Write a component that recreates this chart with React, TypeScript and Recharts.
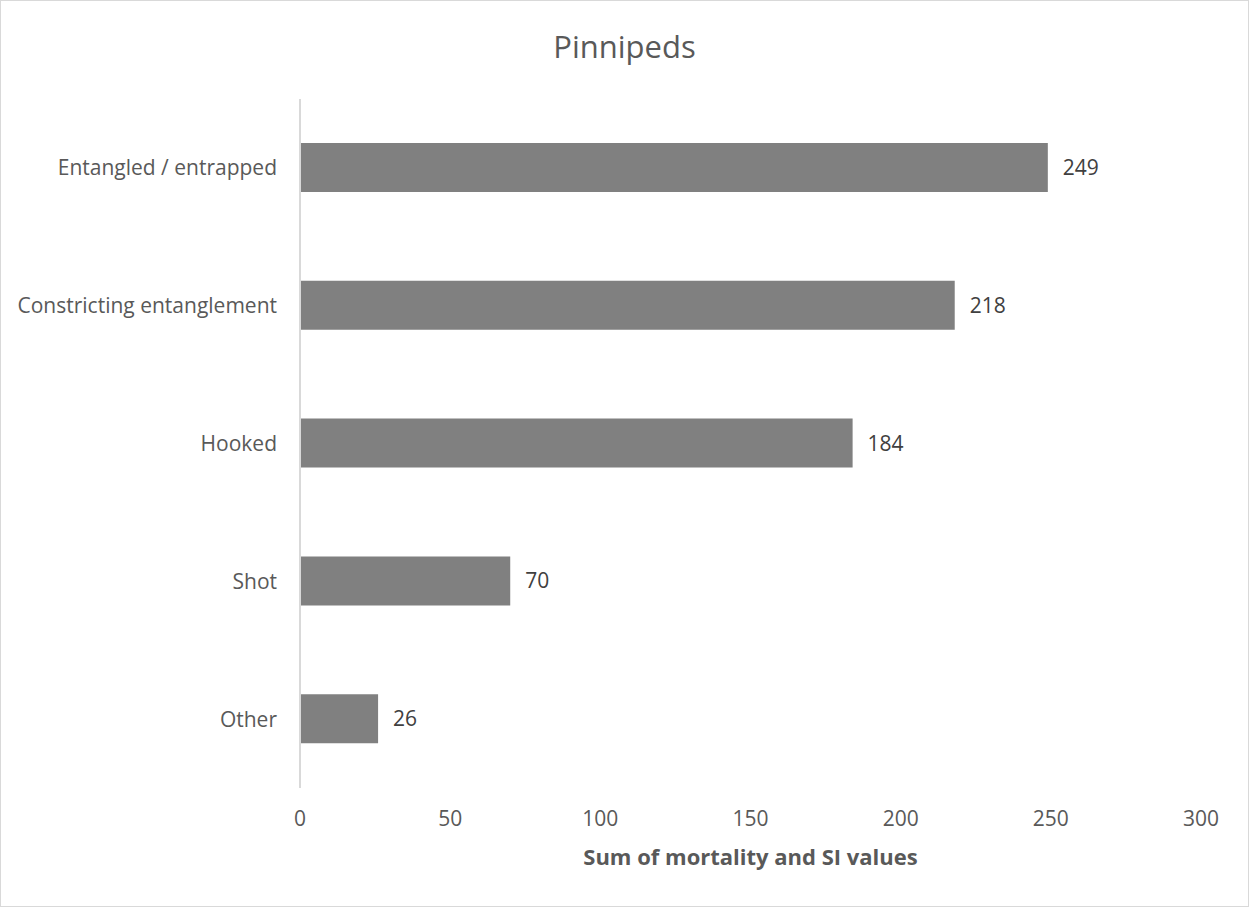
import React from 'react';
import { BarChart, Bar, XAxis, YAxis, LabelList } from 'recharts';

const categories = ['Entangled / entrapped', 'Constricting entanglement', 'Hooked', 'Shot', 'Other'];
const values = [249, 218, 184, 70, 26];
const xTicks = [0, 50, 100, 150, 200, 250, 300];

const data = categories.map((name, i) => ({ name, value: values[i] }));

const FONT = '"Open Sans", "Noto Sans", sans-serif';

export default function App() {
  return (
    <div style={{ position: 'absolute', left: 0, top: 0, width: 1249, height: 907, background: '#fff', fontFamily: FONT }}>
      <div style={{ position: 'absolute', left: 0, top: 0, width: 1247, height: 905, border: '1px solid #d9d9d9' }} />
      <div style={{ position: 'absolute', left: 0, top: 24, width: 1249, textAlign: 'center', fontSize: 31, lineHeight: '44px', color: '#595959' }}>Pinnipeds</div>
      <BarChart
        width={1249}
        height={907}
        data={data}
        layout="vertical"
        margin={{ top: 99, right: 48, bottom: 0, left: 0 }}
      >
        <XAxis
          type="number"
          domain={[0, 300]}
          ticks={xTicks}
          axisLine={false}
          tickLine={false}
          tickMargin={17}
          height={119}
          tick={{ fill: '#595959', fontSize: 21, fontFamily: FONT }}
          label={{ value: 'Sum of mortality and SI values', position: 'insideBottom', offset: 42, fill: '#595959', fontSize: 22, fontWeight: 'bold', fontFamily: FONT }}
        />
        <YAxis
          type="category"
          dataKey="name"
          width={300}
          axisLine={{ stroke: '#d9d9d9', strokeWidth: 2 }}
          tickLine={false}
          tickMargin={17}
          tick={{ fill: '#595959', fontSize: 21, fontFamily: FONT }}
        />
        <Bar dataKey="value" fill="#808080" barSize={49} isAnimationActive={false}>
          <LabelList dataKey="value" position="right" offset={15} fill="#404040" fontSize={21} fontFamily={FONT} />
        </Bar>
      </BarChart>
    </div>
  );
}
